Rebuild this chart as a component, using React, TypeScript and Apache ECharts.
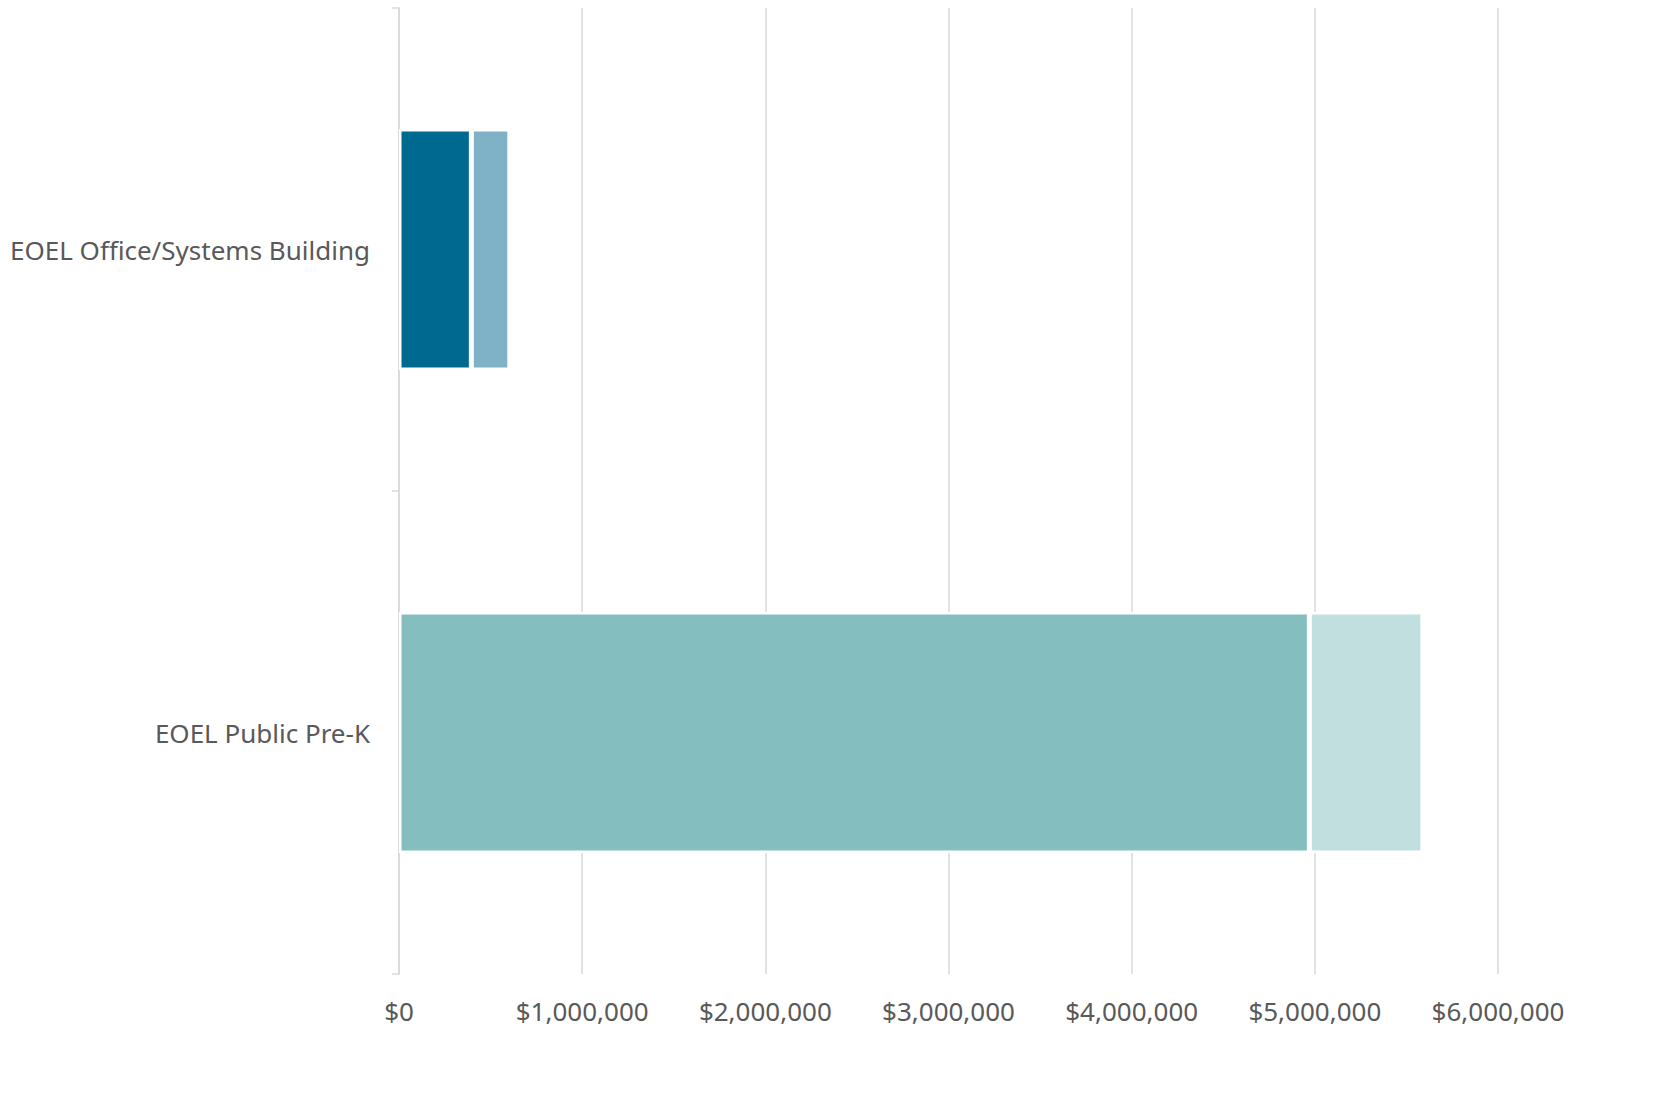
import React, { useEffect, useRef } from "react";
import * as echarts from "echarts";

const categories = ["EOEL Office/Systems Building", "EOEL Public Pre-K"];
const firstSegment = [395000, 4970000];
const secondSegment = [210000, 620000];
const firstColors = ["#00698F", "#84BEBF"];
const secondColors = ["#7FB2C7", "#C2DFE0"];
const xTicks = [0, 1000000, 2000000, 3000000, 4000000, 5000000, 6000000];

const fmt = (v: number) => "$" + v.toLocaleString("en-US");

export default function App() {
  const ref = useRef<HTMLDivElement>(null);
  useEffect(() => {
    if (!ref.current) return;
    const chart = echarts.init(ref.current, null, { renderer: "svg" });
    const font = "'Noto Sans', 'Open Sans', sans-serif";
    chart.setOption({
      animation: false,
      grid: { left: 399, right: 175, top: 8, bottom: 124, containLabel: false },
      xAxis: {
        type: "value",
        min: xTicks[0],
        max: xTicks[xTicks.length - 1],
        interval: 1000000,
        axisLine: { show: false },
        axisTick: { show: false },
        splitLine: { show: true, lineStyle: { color: "#D9D9D9", width: 1.5 } },
        axisLabel: {
          formatter: (v: number) => fmt(v),
          color: "#595959",
          fontSize: 26,
          fontFamily: font,
          margin: 24,
        },
      },
      yAxis: {
        type: "category",
        inverse: true,
        data: categories,
        axisLine: { show: true, lineStyle: { color: "#D9D9D9", width: 1.5 } },
        axisTick: { show: true, length: 7, lineStyle: { color: "#D9D9D9", width: 1.5 } },
        splitLine: { show: false },
        axisLabel: {
          color: "#595959",
          fontSize: 26,
          fontFamily: font,
          margin: 29,
        },
      },
      series: [
        {
          type: "bar",
          stack: "total",
          barWidth: 241,
          data: firstSegment.map((v, i) => ({
            value: v,
            itemStyle: { color: firstColors[i] },
          })),
          itemStyle: { borderColor: "#FFFFFF", borderWidth: 2.5 },
        },
        {
          type: "bar",
          stack: "total",
          barWidth: 241,
          data: secondSegment.map((v, i) => ({
            value: v,
            itemStyle: { color: secondColors[i] },
          })),
          itemStyle: { borderColor: "#FFFFFF", borderWidth: 2.5 },
        },
      ],
    });
    return () => chart.dispose();
  }, []);
  return (
    <div
      ref={ref}
      style={{ position: "fixed", left: 0, top: 0, width: 1673, height: 1098, background: "#FFFFFF" }}
    />
  );
}
